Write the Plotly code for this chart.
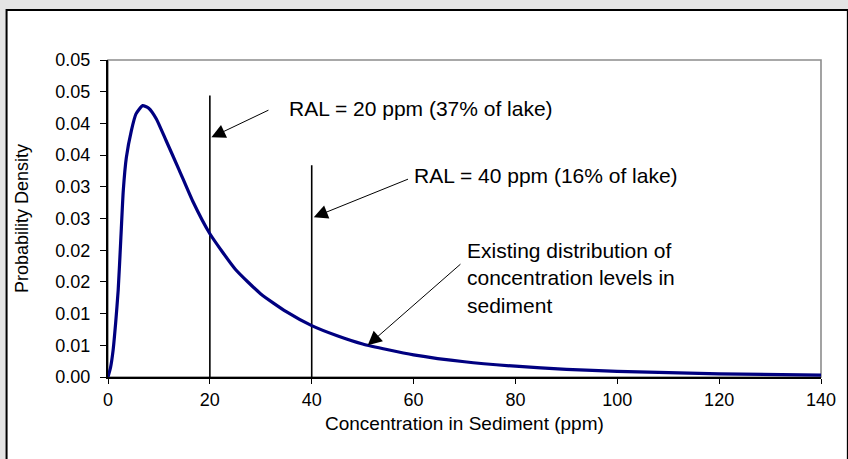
import plotly.graph_objects as go

# ---- data ----
conc = [0, 0.5, 1, 1.5, 2, 2.5, 3, 3.6, 4.6, 5.5, 6.8, 8, 9.5, 11.4, 14, 16.6,
        20, 25, 30, 35, 40, 45, 50, 55, 60, 70, 80, 90, 100, 120, 140]
density = [0, 0.0015, 0.0042, 0.0085, 0.0137, 0.0215, 0.0294, 0.0346, 0.0389,
           0.0415, 0.0428, 0.0424, 0.0407, 0.0373, 0.0326, 0.0278, 0.0226,
           0.0170, 0.0131, 0.0103, 0.0081, 0.0065, 0.0052, 0.0043, 0.0035,
           0.0024, 0.0017, 0.0012, 0.0009, 0.0005, 0.0003]

ral_levels = [20, 40]
ral_line_tops = [0.0444, 0.0334]

x_ticks = [0, 20, 40, 60, 80, 100, 120, 140]
y_ticks = [0, 0.005, 0.01, 0.015, 0.02, 0.025, 0.03, 0.035, 0.04, 0.045, 0.05]
y_tick_labels = ["0.00", "0.01", "0.01", "0.02", "0.02", "0.03", "0.03",
                 "0.04", "0.04", "0.05", "0.05"]

W, H = 848, 459
L, R, T, B = 108, 23, 60, 82
pw, ph = W - L - R, H - T - B


def px2paper_x(px):
    return (px - L) / pw


def px2paper_y(py):
    return (H - B - py) / ph


FONT = "Liberation Sans, Arial, sans-serif"

fig = go.Figure()

# RAL vertical lines
for xv, top in zip(ral_levels, ral_line_tops):
    fig.add_trace(go.Scatter(x=[xv, xv], y=[0, top], mode="lines",
                             line=dict(color="black", width=1.6),
                             hoverinfo="skip", showlegend=False))

# distribution curve
fig.add_trace(go.Scatter(x=conc, y=density, mode="lines",
                         line=dict(color="#000080", width=3.2, shape="spline",
                                   smoothing=0.5),
                         showlegend=False))

shapes = [
    # white chart panel with black border
    dict(type="rect", xref="paper", yref="paper", layer="below",
         x0=px2paper_x(6), x1=px2paper_x(W + 4), y0=px2paper_y(H + 4),
         y1=px2paper_y(10), fillcolor="white",
         line=dict(color="black", width=2)),
    # gray plot-area border
    dict(type="rect", xref="paper", yref="paper", layer="below",
         x0=0, x1=1, y0=0, y1=1, fillcolor="rgba(0,0,0,0)",
         line=dict(color="#8c8c8c", width=1.6)),
]

ANN_FONT = dict(family=FONT, size=21, color="black")
ARROW = dict(xref="x", yref="y", axref="x", ayref="y", showarrow=True,
             arrowhead=2, arrowsize=2.8, arrowwidth=1, arrowcolor="black",
             text="")

annotations = [
    dict(text="RAL = 20 ppm (37% of lake)", x=35.1, y=0.04236, xref="x",
         yref="y", xanchor="left", yanchor="middle", showarrow=False,
         font=ANN_FONT),
    dict(text="RAL = 40 ppm (16% of lake)", x=59.6, y=0.0318, xref="x",
         yref="y", xanchor="left", yanchor="middle", showarrow=False,
         font=ANN_FONT),
    dict(text="Existing distribution of<br>concentration levels in<br>sediment",
         x=70.1, y=0.0156, xref="x", yref="y", xanchor="left",
         yanchor="middle", align="left", showarrow=False, font=ANN_FONT),
    # arrows
    dict(x=20.3, y=0.0378, ax=31.8, ay=0.0422, **ARROW),
    dict(x=40.4, y=0.0252, ax=59.2, ay=0.0313, **ARROW),
    dict(x=51.0, y=0.0050, ax=69.5, ay=0.0180, **ARROW),
    # axis titles
    dict(text="Probability Density", x=px2paper_x(21), y=0.5, xref="paper",
         yref="paper", xanchor="center", yanchor="middle", textangle=-90,
         showarrow=False, font=dict(family=FONT, size=18, color="black")),
    dict(text="Concentration in Sediment (ppm)", x=0.5, y=px2paper_y(423),
         xref="paper", yref="paper", xanchor="center", yanchor="middle",
         showarrow=False, font=dict(family=FONT, size=19, color="black")),
]

fig.update_layout(
    width=W, height=H,
    margin=dict(l=L, r=R, t=T, b=B),
    paper_bgcolor="#e4e4e4",
    plot_bgcolor="rgba(0,0,0,0)",
    shapes=shapes,
    annotations=annotations,
    showlegend=False,
    font=dict(family=FONT, size=18, color="black"),
)

fig.update_xaxes(range=[0, 140], tickvals=x_ticks,
                 ticktext=[str(v) for v in x_ticks],
                 showgrid=False, zeroline=False, showline=True,
                 linecolor="black", linewidth=2, ticks="outside", ticklen=5,
                 tickwidth=1.2, tickcolor="black", ticklabelstandoff=0,
                 tickfont=dict(family=FONT, size=18, color="black"))
fig.update_yaxes(range=[0, 0.05], tickvals=y_ticks, ticktext=y_tick_labels,
                 showgrid=False, zeroline=False, showline=True,
                 linecolor="black", linewidth=2, ticks="outside", ticklen=6,
                 tickwidth=1.2, tickcolor="black", ticklabelstandoff=6,
                 tickfont=dict(family=FONT, size=18, color="black"))

fig.write_html("out.html",
               config={"displayModeBar": False},
               post_script="document.body.style.margin='0';"
                           "document.body.style.overflow='hidden';")
